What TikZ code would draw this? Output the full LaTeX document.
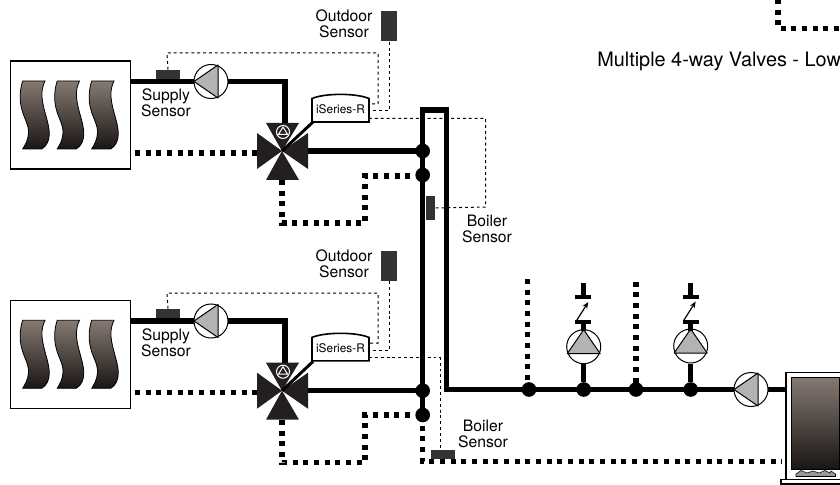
\documentclass[tikz,border=0pt]{standalone}
\usepackage{fontspec}
\usetikzlibrary{arrows.meta}
\setmainfont{TeX Gyre Heros}
\definecolor{fintop}{HTML}{857A72}
\definecolor{finbot}{HTML}{1A1514}
\definecolor{dark}{HTML}{231F20}
\definecolor{sens}{HTML}{333333}
\definecolor{pumpgrey}{HTML}{B3B3B3}
\tikzset{
 pipe/.style={line width=3.9pt,black},
 dotpipe/.style={line width=3.8pt,black,dash pattern=on 3.8pt off 4.2pt},
 wire/.style={line width=.75pt,black,dash pattern=on 2.2pt off 2.2pt},
 junction/.style={circle,fill=black,inner sep=0pt,minimum size=11pt},
 pumpc/.style={circle,draw=black,fill=white,line width=.75pt,inner sep=0pt,minimum size=25.5pt},
 lbl/.style={align=center,font=\fontsize{11.8}{12}\selectfont,inner sep=0pt},
 sensorbox/.style={fill=sens,draw=none,inner sep=0pt},
 fin/.style={draw=black,line width=.6pt,top color=fintop,bottom color=finbot},
 tri/.style={fill=pumpgrey,draw=black,line width=.75pt,line join=round},
 valvepart/.style={fill=dark,draw=none},
 bigbox/.style={draw=black,line width=.8pt,fill=white,inner sep=0pt}
}
\newcommand{\radiator}[1]{%
 \begin{scope}[yshift=#1]
  \foreach \dx in {0,34.5,69}{
   \path[fin,xshift=\dx*.75pt] (22.7,81) .. controls (20,89) and (19,100) .. (22,110) .. controls (24,118) and (29,125) .. (28.5,133) .. controls (28.3,140) and (25,145) .. (22.7,149) -- (41.7,149) .. controls (47,146) and (49.5,140) .. (49.3,133) .. controls (49,122) and (43,110) .. (42,97) .. controls (41.5,90) and (43,85) .. (45,81) -- cycle;
  }
 \end{scope}}
\newcommand{\valve}[2]{% centre x,y
 \begin{scope}[shift={(#1,#2)}]
  \fill[valvepart] (0,0) -- (-16,-28) -- (17,-28) -- cycle;
  \fill[valvepart] (0,0) -- (-16,29) -- (17,29) -- cycle;
  \fill[valvepart] (0,0) -- (-25,-18) -- (-25,18) -- cycle;
  \fill[valvepart] (0,0) -- (26,-18) -- (26,18) -- cycle;
  \draw[white,line width=.75pt] (1,-19) circle[radius=6.5];
  \draw[white,line width=.75pt,line join=round] (1,-24) -- (-3.6,-16.5) -- (5.6,-16.5) -- cycle;
 \end{scope}}
\newcommand{\iseries}[2]{% name, top y
 \begin{scope}[yshift=#2]
  \draw[draw=black,fill=white,line width=1.2pt] (312,122) -- (312,98.5) .. controls (325,93) and (356,93) .. (369,98.5) -- (369,122) -- cycle;
  \node[lbl,font=\fontsize{8.9}{10}\selectfont] (#1) at (340.5,109) {iSeries-R};
 \end{scope}}
\newcommand{\hpumptri}[2]{\draw[tri] (#1-17,#2) -- (#1+7,#2-16.5) -- (#1+7,#2+16.5) -- cycle;}
\newcommand{\vpumptri}[2]{\draw[tri] (#1,#2-17) -- (#1-16.5,#2+7) -- (#1+16.5,#2+7) -- cycle;}
\begin{document}
\begin{tikzpicture}[x=.75pt,y=-.75pt]
\useasboundingbox (0,0) rectangle (840,485);
% named points
\coordinate (r1o) at (130.5,81.5);
\coordinate (r2o) at (130.5,321);
\coordinate (c1) at (285,81.5);
\coordinate (c2) at (285,321);
\coordinate (t1) at (422.7,110);
\coordinate (t2) at (446.7,110);
\coordinate (b2) at (446.7,389.5);
\coordinate (v1) at (282,151);
\coordinate (v2) at (282,390.7);
\coordinate (bo) at (786,389.5);
% radiators
\node[bigbox,minimum width=90pt,minimum height=81pt] (rad1) at (70.5,115) {};
\node[bigbox,minimum width=90pt,minimum height=81pt] (rad2) at (70.5,354.5) {};
\radiator{0pt}
\radiator{-179.5pt}
% sensors
\node[sensorbox,minimum width=18pt,minimum height=6.8pt] (ss1) at (168,74.5) {};
\node[sensorbox,minimum width=18pt,minimum height=6.8pt] (ss2) at (168,313.5) {};
\node[sensorbox,minimum width=12pt,minimum height=22.5pt] (os1) at (389,26.5) {};
\node[sensorbox,minimum width=12pt,minimum height=22.5pt] (os2) at (389,266) {};
\node[sensorbox,minimum width=7pt,minimum height=18pt] (bs1) at (430.3,208) {};
\node[sensorbox,minimum width=18pt,minimum height=6.8pt] (bs2) at (443,454.5) {};
\coordinate (w1a) at (369,104);\coordinate (w1b) at (369,111);\coordinate (w1c) at (369,118.5);
\coordinate (w2a) at (369,343);\coordinate (w2b) at (369,350.7);\coordinate (w2c) at (369,357.7);
\draw[wire] (ss1.north) -- (167,53) -- (378,53) -- (378,104) -- (w1a);
\draw[wire] (os1.south) -- (389,111) -- (w1b);
\draw[wire] (w1c) -- (485.7,118.5) -- (485.7,207) -- (bs1.east);
\draw[wire] (ss2.north) -- (167,293) -- (378,293) -- (378,343) -- (w2a);
\draw[wire] (os2.south) -- (389,350.7) -- (w2b);
\draw[wire] (w2c) -- (440.3,357.7) -- (440.3,450);
% dotted returns
\coordinate (d1a) at (135,153);\coordinate (d2a) at (135,392.7);
\coordinate (d1b) at (257,153);\coordinate (d2b) at (257,392.7);
\draw[dotpipe] (d1a) -- (d1b);
\draw[dotpipe] (d2a) -- (d2b);
\draw[dotpipe] (282,180) -- (282,223) -- (365,223) -- (365,176) -- (422.7,176);
\draw[dotpipe] (282,420) -- (282,462.7) -- (365,462.7) -- (365,415) -- (422.7,415);
\draw[dotpipe] (422.7,415) -- (422.7,461.7) -- (782,461.7);
\draw[dotpipe] (527.7,279) -- (527.7,385);
\draw[dotpipe] (636,281.5) -- (636,385);
\draw[dotpipe] (778,-1) -- (778,28.5) -- (842,28.5);
% solid pipes
\draw[pipe] (r1o) -- (c1) -- (285,123);
\draw[pipe] (r2o) -- (c2) -- (285,363);
\draw[pipe] (302,151) -- (422.7,151);
\draw[pipe] (302,390.7) -- (422.7,390.7);
\draw[pipe,line join=miter] (422.7,415) -- (t1) -- (t2) -- (b2) -- (bo);
% junctions
\node[junction] (j1) at (422.7,151) {};
\node[junction] (j2) at (422.7,175) {};
\node[junction] (j3) at (422.7,390.7) {};
\node[junction] (j4) at (422.7,415) {};
\node[junction] (j5) at (529,389.5) {};
\node[junction] (j6) at (583.7,389.5) {};
\node[junction] (j7) at (636,389.5) {};
\node[junction] (j8) at (690.7,389.5) {};
\node[pumpc] (vp1) at (583.7,346.7) {};
\node[pumpc] (vp2) at (690.7,346) {};
\draw[pipe] (vp1) -- (j6);
\draw[pipe] (vp2) -- (j8);
\vpumptri{583.7}{346.7}
\vpumptri{690.7}{346}
% horizontal pumps
\node[pumpc] (hp1) at (211,81.5) {};
\node[pumpc] (hp2) at (211,321) {};
\node[pumpc] (hp3) at (751,389.5) {};
\hpumptri{211}{81.5}
\hpumptri{211}{321}
\hpumptri{751}{389.5}
% sensors on top of pipes
\node[sensorbox,minimum width=7pt,minimum height=18pt] at (bs1) {};
\node[sensorbox,minimum width=18pt,minimum height=6.8pt] at (bs2) {};
% valves
\valve{282}{151}
\valve{282}{390.7}
\iseries{is1}{0pt}
\iseries{is2}{-179.2pt}
\draw[line width=2.2pt,black] (v1) -- (313,122);
\draw[line width=2.2pt,black] (v2) -- (313,361.5);
% zone valves on vertical pumps
\foreach \xx/\yy in {583.3/0,690.7/-0.5}{
 \draw[line width=3pt] (\xx-8,322+\yy) -- (\xx+8,322+\yy);
 \draw[line width=3.6pt] (\xx,322+\yy) -- (\xx,331+\yy);
 \draw[line width=3pt] (\xx-8,297+\yy) -- (\xx+8,297+\yy);
 \draw[line width=3.6pt] (\xx,297+\yy) -- (\xx,283+\yy);
 \draw[line width=.9pt,-{Stealth[length=5pt,width=4pt]}] (\xx-7,321+\yy) -- (\xx+5,302+\yy);
}
% boiler
\draw[draw=black,line width=.8pt] (840,372.7) -- (786,372.7) -- (786,479);
\draw[fill=white,draw=black,line width=.8pt] (840,479.3) -- (781,479.3) -- (781,484) -- (840,484);
\path[draw=black,line width=.6pt,top color=fintop,bottom color=finbot] (791.5,377.5) rectangle (839,469);
\draw[fill=gray!80,draw=black,line width=.4pt] (796,476.5) -- (796,474) -- (801,470.5) -- (807,473) -- (813,471) -- (819,473) -- (825,470.5) -- (830,473) -- (831,471) -- (835.5,474) -- (835.5,476.5) -- cycle;
% labels
\node[lbl] (lo1) at (344,24) {Outdoor\\Sensor};
\node[lbl] (lo2) at (344,263.5) {Outdoor\\Sensor};
\node[lbl] (ls1) at (166,103) {Supply\\Sensor};
\node[lbl] (ls2) at (166,343) {Supply\\Sensor};
\node[lbl] (lb1) at (487,228.5) {Boiler\\Sensor};
\node[lbl] (lb2) at (483,434) {Boiler\\Sensor};
\node[lbl,anchor=west,font=\fontsize{14.9}{16}\selectfont] (title) at (597,61) {Multiple 4-way Valves - Low};
\end{tikzpicture}
\end{document}
